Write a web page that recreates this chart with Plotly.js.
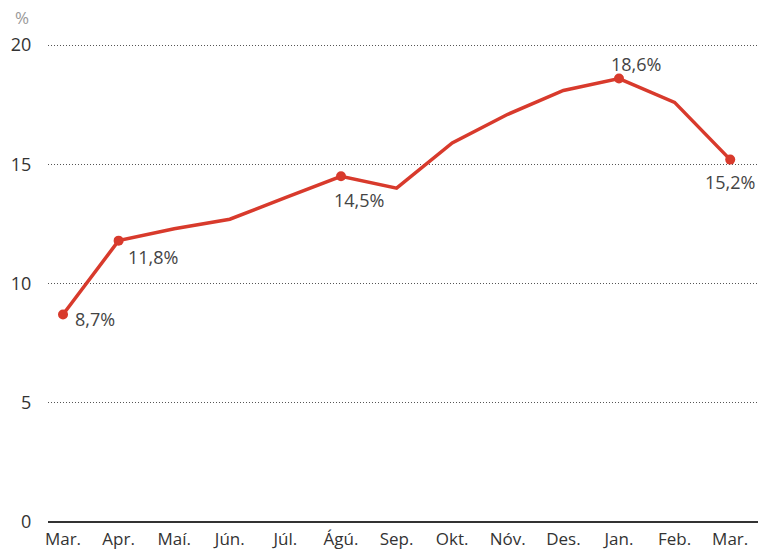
<!DOCTYPE html>
<html>
<head>
<meta charset="utf-8">
<script src="https://cdn.plot.ly/plotly-3.0.1.min.js"></script>
<style>html,body{margin:0;padding:0;background:#fff;}#chart{width:760px;height:550px;}</style>
</head>
<body>
<div id="chart"></div>
<script>
const months = ["Mar.", "Apr.", "Maí.", "Jún.", "Júl.", "Ágú.", "Sep.", "Okt.", "Nóv.", "Des.", "Jan.", "Feb.", "Mar."];
const values = [8.7, 11.8, 12.3, 12.7, 13.6, 14.5, 14.0, 15.9, 17.1, 18.1, 18.6, 17.6, 15.2];
const labelIdx = [0, 1, 5, 10, 12];
const labelText = ["8,7%", "11,8%", "14,5%", "18,6%", "15,2%"];
const yTicks = [0, 5, 10, 15, 20];

// label placement (styling only)
const labelAnchor = ["left", "left", "center", "center", "center"];
const labelDX = [10, 7, 18, 17, 0];
const labelDY = [-4, -16, -24, 15, -22];

const xIdx = months.map((_, i) => i);
const red = "#d83a2c";
const font = "Open Sans, Noto Sans, sans-serif";

const traces = [
  {
    x: xIdx, y: values, type: "scatter", mode: "lines",
    line: {color: red, width: 3.5}, hoverinfo: "skip", cliponaxis: false
  },
  {
    x: labelIdx, y: labelIdx.map(i => values[i]), type: "scatter", mode: "markers",
    marker: {color: red, size: 10},
    cliponaxis: false, hoverinfo: "skip"
  }
];

const annotations = labelIdx.map((i, k) => ({
  x: i, y: values[i], xref: "x", yref: "y",
  text: labelText[k], showarrow: false,
  xanchor: labelAnchor[k], yanchor: "middle",
  xshift: labelDX[k], yshift: labelDY[k],
  font: {family: font, size: 18, color: "#444"}
}));
annotations.push({
  xref: "paper", yref: "paper", x: -0.037, y: 1.042, xanchor: "center", yanchor: "middle",
  text: "%", showarrow: false, font: {family: font, size: 17, color: "#999"}
});

const layout = {
  width: 760, height: 550,
  margin: {l: 48, r: 2, t: 38, b: 28},
  paper_bgcolor: "#fff", plot_bgcolor: "#fff",
  showlegend: false,
  font: {family: font, size: 17, color: "#333"},
  xaxis: {
    range: [-0.27, 12.5],
    tickvals: xIdx, ticktext: months,
    showgrid: false, zeroline: false,
    showline: false, ticks: "outside", ticklen: 2, tickcolor: "rgba(0,0,0,0)",
    tickfont: {family: font, size: 17, color: "#333"}
  },
  yaxis: {
    range: [0, 20.3], tickvals: yTicks,
    showgrid: true, gridcolor: "#555", griddash: "1px,2px", gridwidth: 1,
    zeroline: true, zerolinecolor: "#333", zerolinewidth: 1.5,
    showline: false, ticks: "outside", ticklen: 12, tickcolor: "rgba(0,0,0,0)",
    tickfont: {family: font, size: 18, color: "#333"}
  },
  annotations: annotations
};

Plotly.newPlot("chart", traces, layout, {displayModeBar: false, staticPlot: true});
</script>
</body>
</html>
